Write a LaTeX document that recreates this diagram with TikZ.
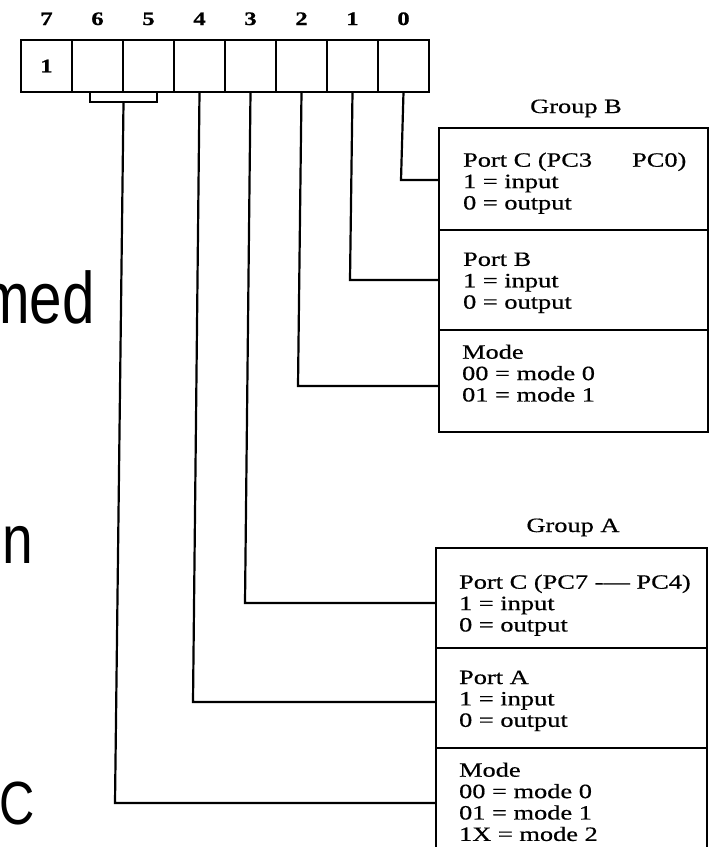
\documentclass[tikz,border=0pt]{standalone}
\usepackage{fontspec}
\setmainfont{Liberation Serif}
\newfontfamily\boxfont[FakeStretch=1.3,FakeBold=0.6]{Liberation Serif}
\newfontfamily\numfont[FakeStretch=1.3,FakeBold=0.8]{Liberation Serif}
\newfontfamily\slidefont[FakeStretch=0.8]{Liberation Sans}
\begin{document}
\begin{tikzpicture}[x=1pt,y=1pt,line width=2.2pt,
  cell/.style={draw,rectangle,minimum width=51pt,minimum height=52pt,inner sep=0pt,outer sep=0pt,
    font=\numfont\bfseries\fontsize{19}{19}\selectfont},
  bitnum/.style={font=\numfont\bfseries\fontsize{19}{19}\selectfont,inner sep=0pt,anchor=base},
  section/.style={draw,rectangle,anchor=north west,inner sep=0pt,outer sep=0pt},
  info/.style={font=\boxfont\fontsize{20.3}{21.4}\selectfont,align=left,anchor=north west,inner sep=0pt},
  grouplabel/.style={font=\boxfont\fontsize{20.3}{21.4}\selectfont,anchor=base,inner sep=0pt},
  slide/.style={anchor=base east,inner sep=0pt},
  wire/.style={draw,line width=2.2pt}]
\useasboundingbox (0,0) rectangle (709,-847);
\clip (0,0) rectangle (709,-847);

% register cells
\node[cell] (c7) at (46.5,-66) {1};
\node[cell] (c6) at (97.5,-66) {};
\node[cell] (c5) at (148.5,-66) {};
\node[cell] (c4) at (199.5,-66) {};
\node[cell] (c3) at (250.5,-66) {};
\node[cell] (c2) at (301.5,-66) {};
\node[cell] (c1) at (352.5,-66) {};
\node[cell] (c0) at (403.5,-66) {};

% bit numbers
\node[bitnum] (n7) at (46.5,-25) {7};
\node[bitnum] (n6) at (97.5,-25) {6};
\node[bitnum] (n5) at (148.5,-25) {5};
\node[bitnum] (n4) at (199.5,-25) {4};
\node[bitnum] (n3) at (250.5,-25) {3};
\node[bitnum] (n2) at (301.5,-25) {2};
\node[bitnum] (n1) at (352.5,-25) {1};
\node[bitnum] (n0) at (403.5,-25) {0};

% Group B
\node[grouplabel] (gB) at (576,-113) {Group B};
\node[section,minimum width=269pt,minimum height=102pt] (pcB) at (439,-128) {};
\node[section,minimum width=269pt,minimum height=100pt] (pbB) at (439,-230) {};
\node[section,minimum width=269pt,minimum height=102pt] (modeB) at (439,-330) {};
\node[info] (tpcB) at (462,-151.5) {Port C (PC3\hspace{40pt}PC0)\\1 = input\\0 = output};
\node[info] (tpbB) at (462,-251.5) {Port B\\1 = input\\0 = output};
\node[info] (tmodeB) at (461,-343.5) {Mode\\00 = mode 0\\01 = mode 1};

% Group A
\node[grouplabel] (gA) at (573,-532) {Group A};
\node[section,minimum width=271pt,minimum height=100pt] (pcA) at (436,-548) {};
\node[section,minimum width=271pt,minimum height=100pt] (paA) at (436,-648) {};
\node[section,minimum width=271pt,minimum height=115pt] (modeA) at (436,-748) {};
\node[info] (tpcA) at (458,-573.5) {Port C (PC7 -— PC4)\\1 = input\\0 = output};
\node[info] (tpaA) at (458,-669.5) {Port A\\1 = input\\0 = output};
\node[info] (tmodeA) at (458,-761.5) {Mode\\00 = mode 0\\01 = mode 1\\1X = mode 2};

% corners of connectors
\coordinate (k0) at (401,-180);
\coordinate (k1) at (350,-280);
\coordinate (k2) at (298,-386);
\coordinate (k3) at (245,-603);
\coordinate (k4) at (193,-702);
\coordinate (k65) at (115,-803);
\coordinate (b65) at (123.5,-102);

% bracket under bits 6 and 5
\draw ([xshift=18pt]c6.south west) -- ++(0,-10) -| ([xshift=-17pt]c5.south east);

% connectors
\draw[wire] (c0.south) -- (k0) -- (k0 -| pcB.west);
\draw[wire] (c1.south) -- (k1) -- (k1 -| pbB.west);
\draw[wire] (c2.south) -- (k2) -- (k2 -| modeB.west);
\draw[wire] (c3.south) -- (k3) -- (k3 -| pcA.west);
\draw[wire] (c4.south) -- (k4) -- (k4 -| paA.west);
\draw[wire] (b65) -- (k65) -- (k65 -| modeA.west);

% fragments of slide text at the left
\node[slide,font=\slidefont\fontsize{73}{73}\selectfont] (frag1) at (96,-323) {med};
\node[slide,font=\slidefont\fontsize{69}{69}\selectfont] (frag2) at (34,-563) {n};
\node[slide,font=\slidefont\fontsize{61}{61}\selectfont] (frag3) at (36,-824) {C};
\end{tikzpicture}
\end{document}
